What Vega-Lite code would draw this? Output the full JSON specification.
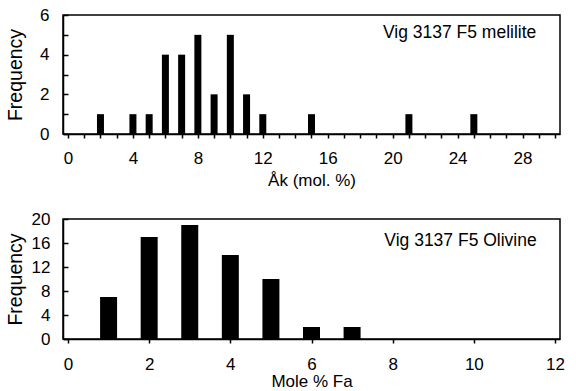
{
  "$schema": "https://vega.github.io/schema/vega-lite/v6.json",
  "background": "white",
  "padding": {"left": 4, "top": 5, "right": 5, "bottom": 5},
  "spacing": 85,
  "bounds": "flush",
  "config": {
    "font": "Liberation Sans",
    "view": {"stroke": "#000", "strokeWidth": 1.5},
    "axis": {
      "grid": false,
      "labelFont": "Liberation Sans",
      "titleFont": "Liberation Sans",
      "labelFontSize": 17,
      "titleFontSize": 17,
      "titleFontWeight": "normal",
      "labelColor": "#000",
      "titleColor": "#000",
      "domainColor": "#000",
      "tickColor": "#000",
      "domainWidth": 1.5,
      "tickWidth": 1.5,
      "labelOverlap": false,
      "labelFlush": false
    }
  },
  "vconcat": [
    {
      "width": 497,
      "height": 119,
      "layer": [
        {
          "data": {"values": [
            {"ak": 2, "n": 1}, {"ak": 4, "n": 1}, {"ak": 5, "n": 1}, {"ak": 6, "n": 4},
            {"ak": 7, "n": 4}, {"ak": 8, "n": 5}, {"ak": 9, "n": 2}, {"ak": 10, "n": 5},
            {"ak": 11, "n": 2}, {"ak": 12, "n": 1}, {"ak": 15, "n": 1}, {"ak": 21, "n": 1},
            {"ak": 25, "n": 1}
          ]},
          "mark": {"type": "bar", "size": 7, "color": "#000"},
          "encoding": {
            "x": {
              "field": "ak", "type": "quantitative",
              "scale": {"domain": [0, 30], "nice": false},
              "axis": {
                "title": "Åk (mol. %)",
                "values": [0,1,2,3,4,5,6,7,8,9,10,11,12,13,14,15,16,17,18,19,20,21,22,23,24,25,26,27,28,29,30],
                "labelExpr": "datum.value % 4 === 0 && datum.value < 30 ? datum.label : ''",
                "labelOverlap": false,
                "tickSize": 4,
                "labelPadding": 12,
                "titlePadding": 6
              }
            },
            "y": {
              "field": "n", "type": "quantitative",
              "scale": {"domain": [0, 6], "nice": false},
              "axis": {
                "title": "Frequency",
                "titleFontSize": 19.5,
                "values": [0,1,2,3,4,5,6],
                "labelExpr": "datum.value % 2 === 0 ? datum.label : ''",
                "labelOverlap": false,
                "tickSize": -5,
                "labelPadding": 19,
                "titleX": -48,
                "titleY": 59.5,
                "titleBaseline": "middle"
              }
            }
          }
        },
        {
          "data": {"values": [{"label": "Vig 3137 F5 melilite"}]},
          "mark": {"type": "text", "align": "right", "baseline": "middle", "fontSize": 17.5, "color": "#000"},
          "encoding": {
            "x": {
              "datum": 28.85, "type": "quantitative",
              "scale": {"domain": [0, 30], "nice": false},
              "axis": {
                "title": "Åk (mol. %)",
                "values": [0,1,2,3,4,5,6,7,8,9,10,11,12,13,14,15,16,17,18,19,20,21,22,23,24,25,26,27,28,29,30],
                "labelExpr": "datum.value % 4 === 0 && datum.value < 30 ? datum.label : ''",
                "labelOverlap": false,
                "tickSize": 4,
                "labelPadding": 12,
                "titlePadding": 6
              }
            },
            "y": {
              "datum": 5.1, "type": "quantitative",
              "scale": {"domain": [0, 6], "nice": false},
              "axis": {
                "title": "Frequency",
                "titleFontSize": 19.5,
                "values": [0,1,2,3,4,5,6],
                "labelExpr": "datum.value % 2 === 0 ? datum.label : ''",
                "labelOverlap": false,
                "tickSize": -5,
                "labelPadding": 19,
                "titleX": -48,
                "titleY": 59.5,
                "titleBaseline": "middle"
              }
            },
            "text": {"field": "label"}
          }
        }
      ]
    },
    {
      "width": 497,
      "height": 120,
      "layer": [
        {
          "data": {"values": [
            {"fa": 1, "n": 7}, {"fa": 2, "n": 17}, {"fa": 3, "n": 19}, {"fa": 4, "n": 14},
            {"fa": 5, "n": 10}, {"fa": 6, "n": 2}, {"fa": 7, "n": 2}
          ]},
          "mark": {"type": "bar", "size": 17, "color": "#000"},
          "encoding": {
            "x": {
              "field": "fa", "type": "quantitative",
              "scale": {"domain": [0, 12], "nice": false},
              "axis": {
                "title": "Mole % Fa",
                "values": [0,2,4,6,8,10,12],
                "labelOverlap": false,
                "tickSize": 4,
                "labelPadding": 13,
                "titlePadding": 1
              }
            },
            "y": {
              "field": "n", "type": "quantitative",
              "scale": {"domain": [0, 20], "nice": false},
              "axis": {
                "title": "Frequency",
                "titleFontSize": 19.5,
                "values": [0,4,8,12,16,20],
                "labelOverlap": false,
                "tickSize": -5,
                "labelPadding": 18,
                "titleX": -48,
                "titleY": 60,
                "titleBaseline": "middle"
              }
            }
          }
        },
        {
          "data": {"values": [{"label": "Vig 3137 F5 Olivine"}]},
          "mark": {"type": "text", "align": "right", "baseline": "middle", "fontSize": 17.5, "color": "#000"},
          "encoding": {
            "x": {
              "datum": 11.55, "type": "quantitative",
              "scale": {"domain": [0, 12], "nice": false},
              "axis": {
                "title": "Mole % Fa",
                "values": [0,2,4,6,8,10,12],
                "labelOverlap": false,
                "tickSize": 4,
                "labelPadding": 13,
                "titlePadding": 1
              }
            },
            "y": {
              "datum": 16.3, "type": "quantitative",
              "scale": {"domain": [0, 20], "nice": false},
              "axis": {
                "title": "Frequency",
                "titleFontSize": 19.5,
                "values": [0,4,8,12,16,20],
                "labelOverlap": false,
                "tickSize": -5,
                "labelPadding": 18,
                "titleX": -48,
                "titleY": 60,
                "titleBaseline": "middle"
              }
            },
            "text": {"field": "label"}
          }
        }
      ]
    }
  ]
}
